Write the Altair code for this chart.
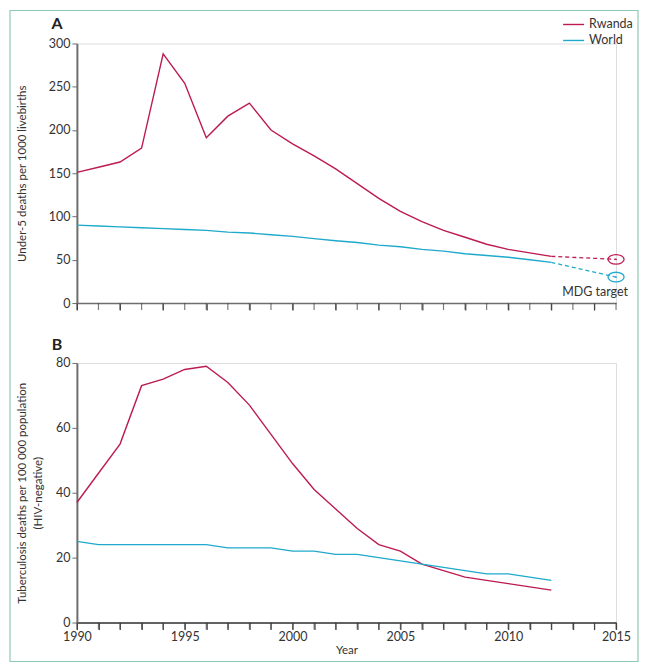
import altair as alt
import pandas as pd

years = list(range(1990, 2013))
rwanda_u5 = [151, 157, 163, 179, 288, 254, 191, 216, 231, 200, 184, 170, 155, 138, 121, 106, 94, 84, 76, 68, 62, 58, 54]
world_u5 = [90, 89, 88, 87, 86, 85, 84, 82, 81, 79, 77, 74.5, 72, 70, 67, 65, 62, 60, 57, 55, 53, 50, 47]
target_year = 2015
rwanda_target = 50.5
world_target = 30
rwanda_tb = [37, 46, 55, 73, 75, 78, 79, 74, 67, 58, 49, 41, 35, 29, 24, 22, 18, 16, 14, 13, 12, 11, 10]
world_tb = [25, 24, 24, 24, 24, 24, 24, 23, 23, 23, 22, 22, 21, 21, 20, 19, 18, 17, 16, 15, 15, 14, 13]
series = ["Rwanda", "World"]
colors = ["#BC1B51", "#1FA9CC"]
tick_years = list(range(1990, 2016))

FONT = "Lato"
AX = "#6e6e6e"

df_a = pd.DataFrame({"year": years * 2, "value": rwanda_u5 + world_u5,
                     "series": [series[0]] * len(years) + [series[1]] * len(years)})
df_proj = pd.DataFrame({"year": [years[-1], target_year, years[-1], target_year],
                        "value": [rwanda_u5[-1], rwanda_target, world_u5[-1], world_target],
                        "series": [series[0], series[0], series[1], series[1]]})
df_tgt = pd.DataFrame({"year": [target_year, target_year], "value": [rwanda_target, world_target],
                       "series": series})
df_b = pd.DataFrame({"year": years * 2, "value": rwanda_tb + world_tb,
                     "series": [series[0]] * len(years) + [series[1]] * len(years)})
df_ticks = pd.DataFrame({"year": tick_years})
one = pd.DataFrame({"k": [0]})

color = alt.Color("series:N", scale=alt.Scale(domain=series, range=colors), legend=None)
xscale = alt.Scale(domain=[1990, 2015], nice=False, zero=False)

def xaxis(labels):
    return alt.Axis(values=tick_years, labels=labels, title="Year" if labels else None,
                    labelExpr="datum.value % 5 == 0 ? datum.label : ''", format="d",
                    tickSize=7, domainColor=AX if not labels else "#333", tickColor="#444",
                    domainWidth=1.5, tickWidth=1.2, grid=False, labelPadding=1, labelFlush=False,
                    labelOverlap=False,
                    labelFontSize=12.5, labelColor="#333", titleFontSize=11.5, titleFontWeight="normal",
                    titleColor="#333", titlePadding=2)

def ticks(h, labels):
    return alt.Chart(df_ticks).mark_tick(color="#444", thickness=1.2, size=7, orient="vertical").encode(
        x=alt.X("year:Q", scale=xscale, axis=xaxis(labels)), y=alt.value(h + 3.5))

ELLIPSE = "M-1,0 A1,0.6 0 1,0 1,0 A1,0.6 0 1,0 -1,0 Z"

lines_a = alt.Chart(df_a).mark_line(strokeWidth=1.4).encode(
    x=alt.X("year:Q", scale=xscale, axis=xaxis(False)),
    y=alt.Y("value:Q", scale=alt.Scale(domain=[0, 300], nice=False),
            axis=alt.Axis(values=[0, 50, 100, 150, 200, 250, 300], title="Under-5 deaths per 1000 livebirths",
                          tickSize=5, domainColor=AX, tickColor=AX, domainWidth=2, grid=False,
                          labelFontSize=12.5, labelColor="#333", labelPadding=2,
                          titleFontSize=11.5, titleFontWeight="normal", titleColor="#333", titlePadding=21)),
    color=color, detail="series:N")
proj_a = alt.Chart(df_proj).mark_line(strokeWidth=1.3, strokeDash=[4, 3]).encode(
    x="year:Q", y="value:Q", color=color, detail="series:N")
ell_a = alt.Chart(df_tgt).mark_point(shape=ELLIPSE, size=260, strokeWidth=1.3, filled=False, opacity=1).encode(
    x="year:Q", y="value:Q", color=color)
dot_a = alt.Chart(df_tgt).mark_point(shape="circle", size=3, filled=True, opacity=1).encode(
    x="year:Q", y="value:Q", color=color)
mdg = alt.Chart(one).mark_text(text="MDG target", font=FONT, fontSize=12.5, color="#333", align="right",
                               baseline="middle").encode(x=alt.value(552), y=alt.value(249))
lab_a = alt.Chart(one).mark_text(text="A", font=FONT, fontSize=16, fontWeight="bold", color="#222",
                                 align="center", baseline="middle").encode(x=alt.value(-20), y=alt.value(-19))
leg_r = alt.Chart(one).mark_rule(color=colors[0], strokeWidth=1.4).encode(
    x=alt.value(487), x2=alt.value(508), y=alt.value(-19))
leg_w = alt.Chart(one).mark_rule(color=colors[1], strokeWidth=1.4).encode(
    x=alt.value(487), x2=alt.value(508), y=alt.value(-3))
leg_rt = alt.Chart(one).mark_text(text=series[0], font=FONT, fontSize=12.5, color="#333", align="left",
                                  baseline="middle").encode(x=alt.value(513), y=alt.value(-19))
leg_wt = alt.Chart(one).mark_text(text=series[1], font=FONT, fontSize=12.5, color="#333", align="left",
                                  baseline="middle").encode(x=alt.value(513), y=alt.value(-3))
frame = alt.Chart(one).mark_rect(filled=False, stroke="#8fc9b3", strokeWidth=1.2).encode(
    x=alt.value(-67), x2=alt.value(562), y=alt.value(-33), y2=alt.value(619))

chart_a = alt.layer(frame, lines_a, ticks(260, False), proj_a, ell_a, dot_a, mdg, lab_a,
                    leg_r, leg_w, leg_rt, leg_wt).properties(width=540, height=260)

lines_b = alt.Chart(df_b).mark_line(strokeWidth=1.4).encode(
    x=alt.X("year:Q", scale=xscale, axis=xaxis(True)),
    y=alt.Y("value:Q", scale=alt.Scale(domain=[0, 80], nice=False),
            axis=alt.Axis(values=[0, 20, 40, 60, 80],
                          title=["Tuberculosis deaths per 100 000 population", "(HIV-negative)"],
                          tickSize=5, domainColor=AX, tickColor=AX, domainWidth=2, grid=False,
                          labelFontSize=12.5, labelColor="#333", labelPadding=2,
                          titleFontSize=11.5, titleFontWeight="normal", titleColor="#333", titlePadding=12,
                          titleLineHeight=16, titleAlign="center")),
    color=color, detail="series:N")
lab_b = alt.Chart(one).mark_text(text="B", font=FONT, fontSize=16, fontWeight="bold", color="#222",
                                 align="center", baseline="middle").encode(x=alt.value(-20), y=alt.value(-18))
chart_b = alt.layer(lines_b, ticks(260, True), lab_b).properties(width=540, height=260)

chart = alt.vconcat(chart_a, chart_b, spacing=60, bounds="flush").properties(
    padding=0, background="white"
).configure_view(stroke=None).configure_axis(grid=False).configure(font=FONT)

chart.save("out.html", embed_options={"renderer": "svg", "actions": False})
